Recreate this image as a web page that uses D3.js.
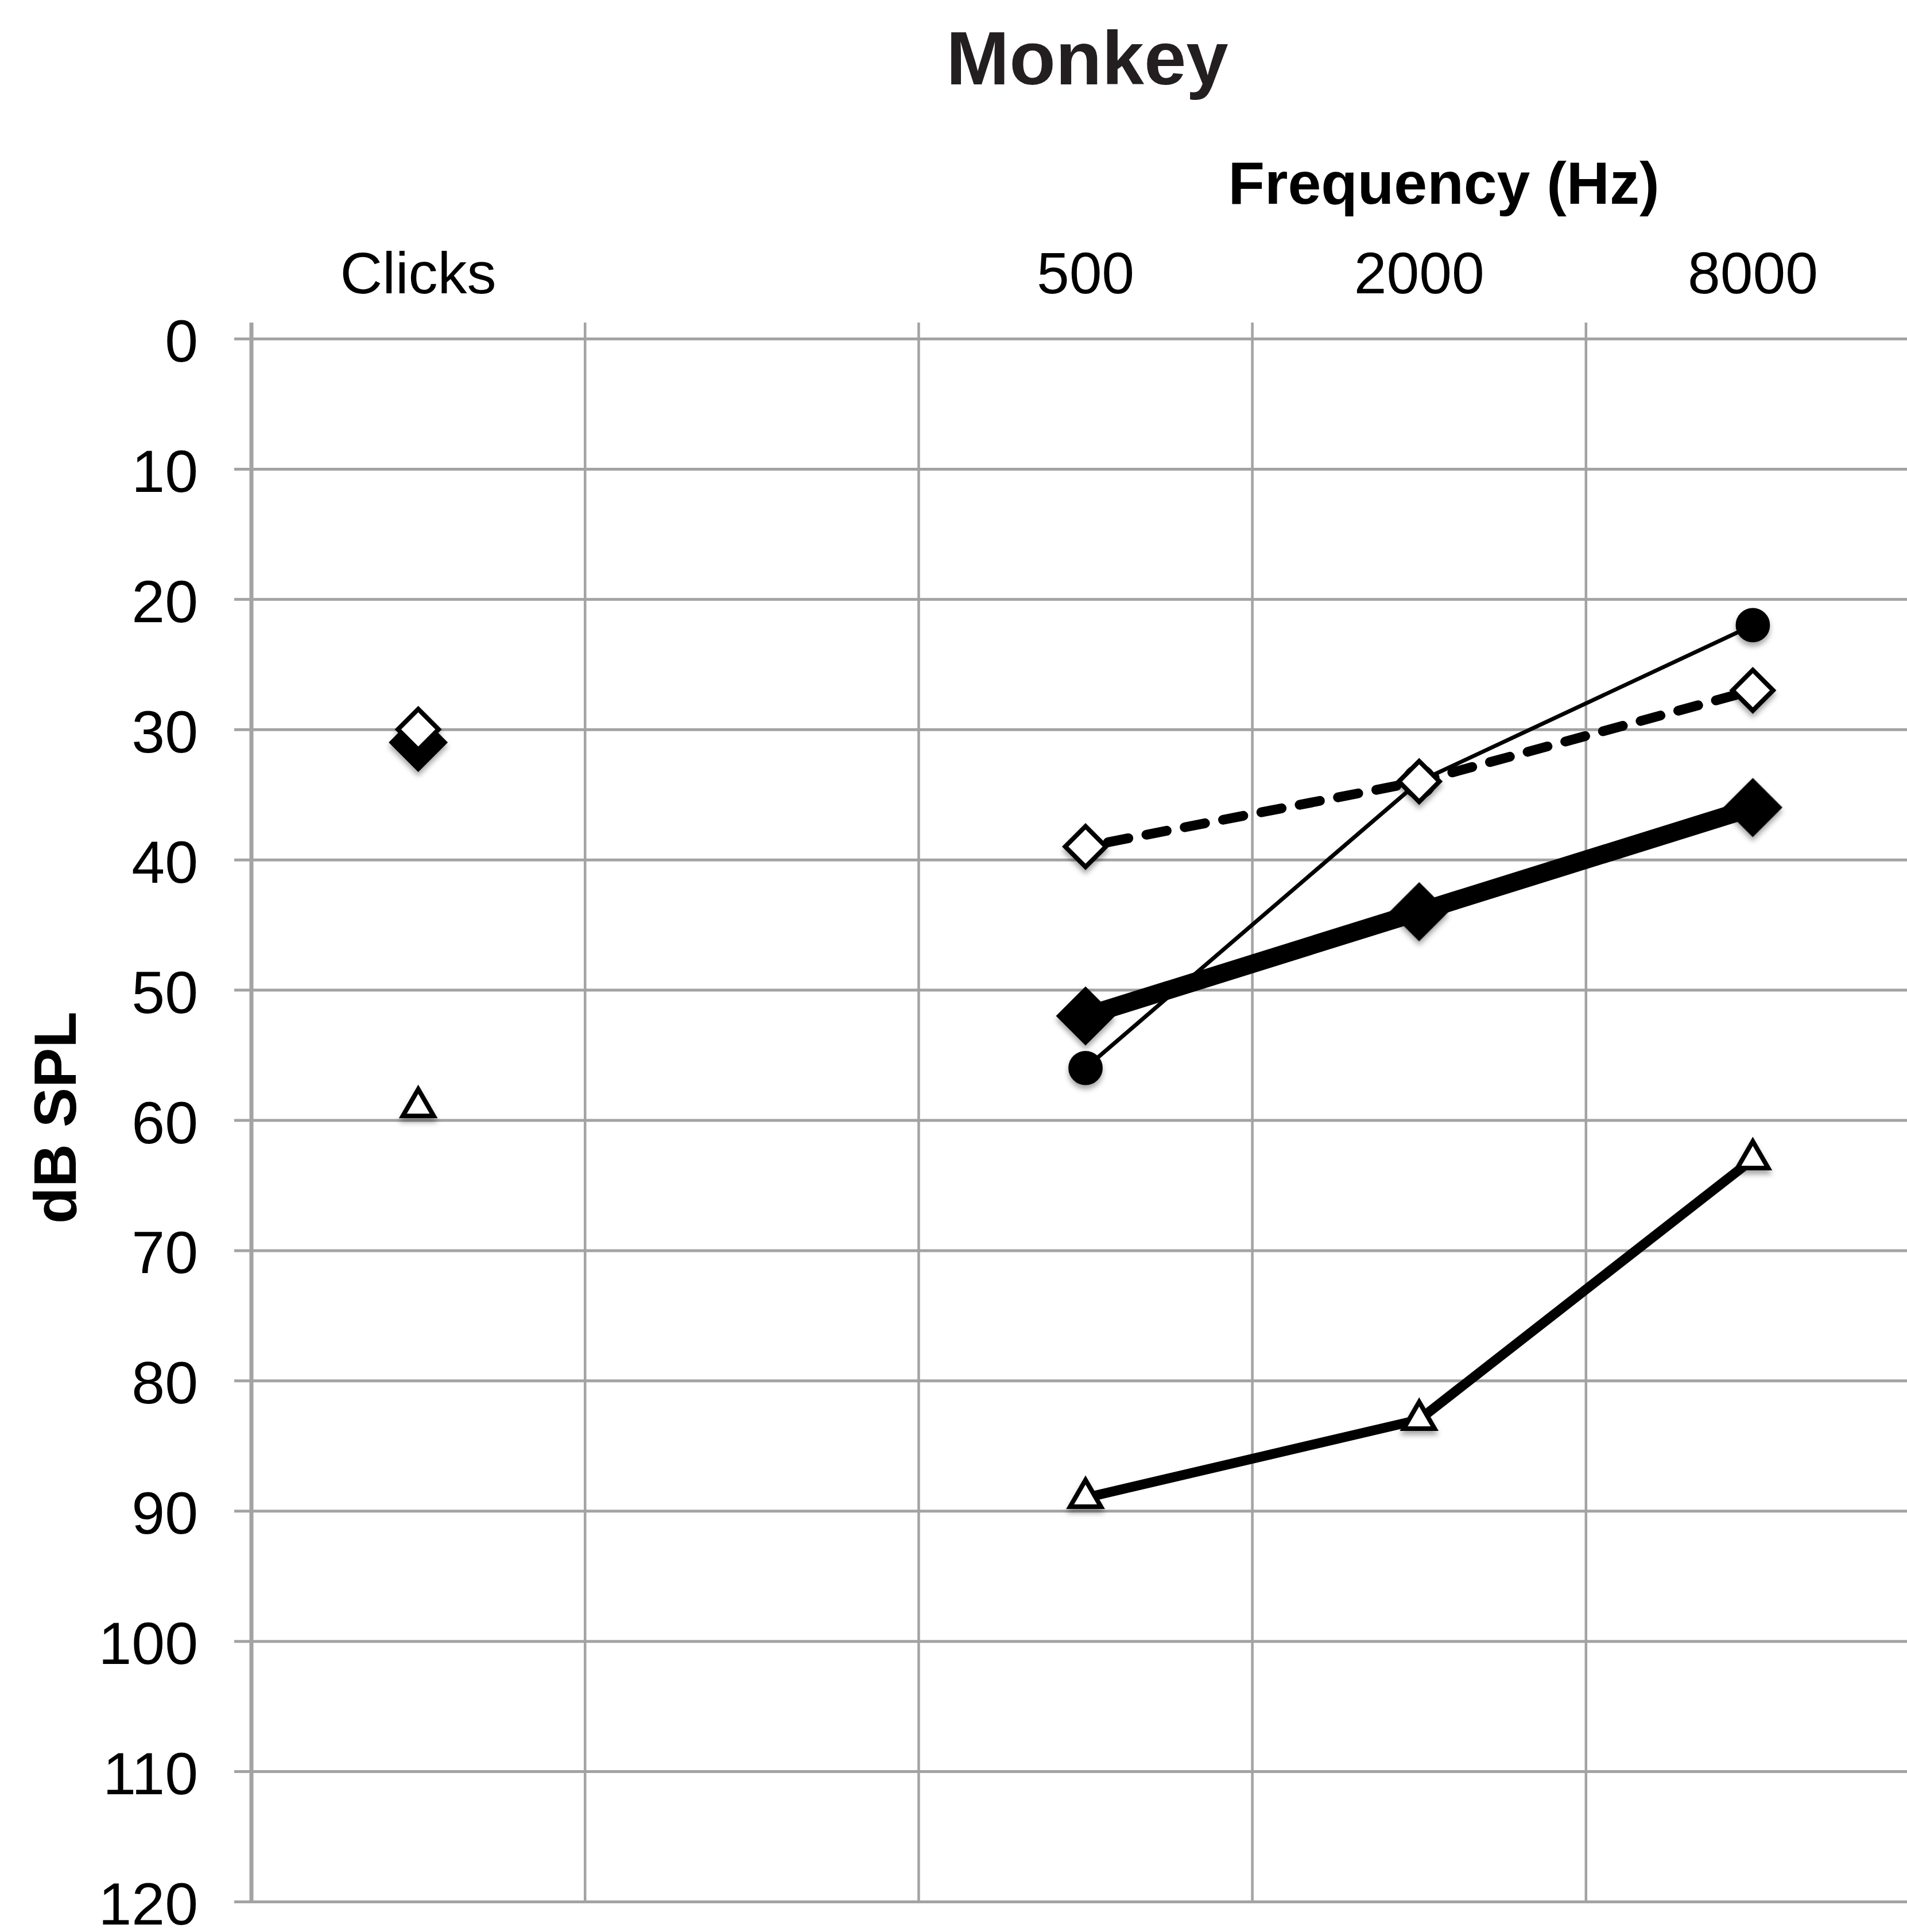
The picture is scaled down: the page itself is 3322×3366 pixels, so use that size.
<!DOCTYPE html>
<html>
<head>
<meta charset="utf-8">
<script src="https://cdn.jsdelivr.net/npm/d3@7"></script>
<style>
  html, body { margin: 0; padding: 0; background: #fff; }
  text { font-family: "Liberation Sans", Arial, sans-serif; }
</style>
</head>
<body>
<svg width="3322" height="3366"></svg>
<script>
const categories = ['Clicks', 'gap', '500', '2000', '8000'];
const tickLabels = ['Clicks', '', '500', '2000', '8000'];
const freqs = ['500', '2000', '8000'];
const yTicks = [0, 10, 20, 30, 40, 50, 60, 70, 80, 90, 100, 110, 120];

// thresholds (dB SPL)
const filledDiamond = [52, 44, 36];
const openDiamond = [39, 34, 27];
const filledCircle = [56, 34, 22];
const openTriangle = [89, 83, 63];

const clickFilledDiamond = 31;
const clickOpenDiamond = 30;
const clickTriangle = 59;

const svg = d3.select('svg');
const width = 3322;

const x = d3.scaleBand()
  .domain(categories)
  .range([438, 3344]);

const y = d3.scaleLinear()
  .domain([0, 120])
  .range([590, 3313]);

const cx = d => x(d) + x.bandwidth() / 2;

// shadow for markers
const defs = svg.append('defs');
defs.append('filter')
  .attr('id', 'shadow')
  .attr('x', '-50%').attr('y', '-50%')
  .attr('width', '200%').attr('height', '200%')
  .append('feDropShadow')
  .attr('dx', 0).attr('dy', 7)
  .attr('stdDeviation', 5)
  .attr('flood-color', '#000')
  .attr('flood-opacity', 0.35);

// horizontal grid + y labels
const yAxis = d3.axisLeft(y)
  .tickValues(yTicks)
  .tickSize(width - 408)
  .tickPadding(63);

const yAxisG = svg.append('g')
  .attr('transform', `translate(${width},0)`)
  .call(yAxis);
yAxisG.select('.domain').remove();
yAxisG.selectAll('line')
  .attr('stroke', '#a3a3a3')
  .attr('stroke-width', 5);
yAxisG.selectAll('text')
  .attr('font-size', 104)
  .attr('fill', '#000')
  .attr('dy', '0.38em');

// vertical grid
svg.append('g').selectAll('line')
  .data(categories)
  .enter().append('line')
  .attr('x1', d => x(d))
  .attr('x2', d => x(d))
  .attr('y1', 562)
  .attr('y2', y(120))
  .attr('stroke', '#a3a3a3')
  .attr('stroke-width', (d, i) => i === 0 ? 7 : 4.5);

// category labels along the top
const xAxis = d3.axisTop(x)
  .tickSize(0)
  .tickPadding(10)
  .tickFormat((d, i) => tickLabels[i]);

const xAxisG = svg.append('g')
  .attr('transform', 'translate(0,521)')
  .call(xAxis);
xAxisG.select('.domain').remove();
xAxisG.selectAll('text')
  .attr('font-size', 102)
  .attr('fill', '#000');

// titles
svg.append('text')
  .attr('x', 1894)
  .attr('y', 147)
  .attr('text-anchor', 'middle')
  .attr('font-size', 132)
  .attr('font-weight', 'bold')
  .attr('fill', '#231f20')
  .text('Monkey');

svg.append('text')
  .attr('x', 2515)
  .attr('y', 355)
  .attr('text-anchor', 'middle')
  .attr('font-size', 104)
  .attr('font-weight', 'bold')
  .attr('fill', '#000')
  .text('Frequency (Hz)');

svg.append('text')
  .attr('transform', 'translate(132,1947) rotate(-90)')
  .attr('text-anchor', 'middle')
  .attr('font-size', 104)
  .attr('font-weight', 'bold')
  .attr('fill', '#000')
  .text('dB SPL');

// lines
const line = d3.line()
  .x((d, i) => cx(freqs[i]))
  .y(d => y(d));

const plot = svg.append('g');

plot.append('path')
  .datum(openTriangle)
  .attr('d', line)
  .attr('fill', 'none')
  .attr('stroke', '#000')
  .attr('stroke-width', 17);

plot.append('path')
  .datum(filledDiamond)
  .attr('d', line)
  .attr('fill', 'none')
  .attr('stroke', '#000')
  .attr('stroke-width', 32);

plot.append('path')
  .datum(filledCircle)
  .attr('d', line)
  .attr('fill', 'none')
  .attr('stroke', '#000')
  .attr('stroke-width', 7);

plot.append('path')
  .datum(openDiamond)
  .attr('d', line)
  .attr('fill', 'none')
  .attr('stroke', '#000')
  .attr('stroke-width', 17)
  .attr('stroke-linecap', 'round')
  .attr('stroke-dasharray', '36,32')
  .attr('stroke-dashoffset', -40);

// markers
const markers = svg.append('g').attr('filter', 'url(#shadow)');

const drawMarkers = (pts, shape, size, fill, rotate) => {
  markers.append('g').selectAll('path')
    .data(pts)
    .enter().append('path')
    .attr('d', d3.symbol().type(shape).size(size)())
    .attr('transform', d => `translate(${cx(d.cat)},${y(d.v)}) rotate(${rotate})`)
    .attr('fill', fill)
    .attr('stroke', '#000')
    .attr('stroke-width', 8)
    .attr('stroke-linejoin', 'miter');
};

const pts = (vals, click) => {
  const out = vals.map((v, i) => ({ cat: freqs[i], v: v }));
  if (click !== undefined) out.unshift({ cat: 'Clicks', v: click });
  return out;
};

drawMarkers(pts(openTriangle, clickTriangle), d3.symbolTriangle, 1250, '#fff', 0);
drawMarkers(pts(filledCircle), d3.symbolCircle, 2100, '#000', 0);
drawMarkers(pts(filledDiamond, clickFilledDiamond), d3.symbolSquare, 4200, '#000', 45);
drawMarkers(pts(openDiamond, clickOpenDiamond), d3.symbolSquare, 2500, '#fff', 45);
</script>
</body>
</html>
